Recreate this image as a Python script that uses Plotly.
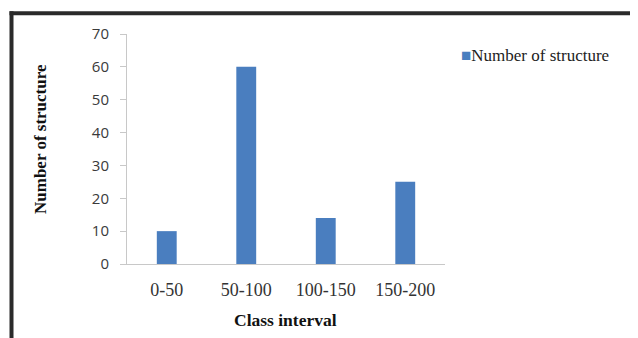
import plotly.graph_objects as go

categories = ["0-50", "50-100", "100-150", "150-200"]
values = [10, 60, 14, 25]
series_name = "Number of structure"
y_ticks = [0, 10, 20, 30, 40, 50, 60, 70]

W, H = 630, 330
L, R, T, B = 119, 193, 26, 74
pw, ph = W - L - R, H - T - B

def px(x):
    return (x - L) / pw

def py(y):
    return (H - B - y) / ph

fig = go.Figure()
fig.add_trace(go.Bar(
    x=categories, y=values, name=series_name,
    marker=dict(color="#4a7ebf", line=dict(width=0)),
    showlegend=False,
))

fig.update_layout(
    width=W, height=H,
    margin=dict(l=L, r=R, t=T, b=B),
    paper_bgcolor="white", plot_bgcolor="white",
    bargap=0.75,
    showlegend=False,
    xaxis=dict(
        showline=True, linecolor="#c8c8c8", linewidth=1,
        ticks="", showgrid=False,
        tickfont=dict(family="Liberation Serif", size=18, color="#333"),
        ticklabelstandoff=9,
    ),
    yaxis=dict(
        range=[0, 70], tickvals=y_ticks,
        showline=True, linecolor="#c8c8c8", linewidth=1,
        ticks="outside", ticklen=6, tickcolor="#c8c8c8",
        showgrid=False, zeroline=False,
        tickfont=dict(family="Open Sans", size=15, color="#3a3a3a"),
        ticklabelstandoff=8,
    ),
    annotations=[
        dict(text="<b>Class interval</b>", xref="paper", yref="paper",
             x=px(277), y=py(312), xanchor="center", yanchor="middle", showarrow=False,
             font=dict(family="Liberation Serif", size=17.5, color="#111")),
        dict(text="<b>Number of structure</b>", xref="paper", yref="paper",
             x=px(32), y=py(131), xanchor="center", yanchor="middle", showarrow=False,
             textangle=-90,
             font=dict(family="Liberation Serif", size=17, color="#111")),
        dict(text='<span style="color:#4a7ebf">■</span>' + series_name,
             xref="paper", yref="paper",
             x=px(451), y=py(47), xanchor="left", yanchor="middle", showarrow=False,
             font=dict(family="Liberation Serif", size=17, color="#222")),
    ],
    shapes=[
        dict(type="line", xref="paper", yref="paper", x0=px(1.5), x1=px(700), y0=py(5.3), y1=py(5.3),
             line=dict(color="#2a2a2a", width=4)),
        dict(type="line", xref="paper", yref="paper", x0=px(3.5), x1=px(3.5), y0=py(3.3), y1=py(400),
             line=dict(color="#2a2a2a", width=4)),
    ],
)

fig.write_html("out.html")
